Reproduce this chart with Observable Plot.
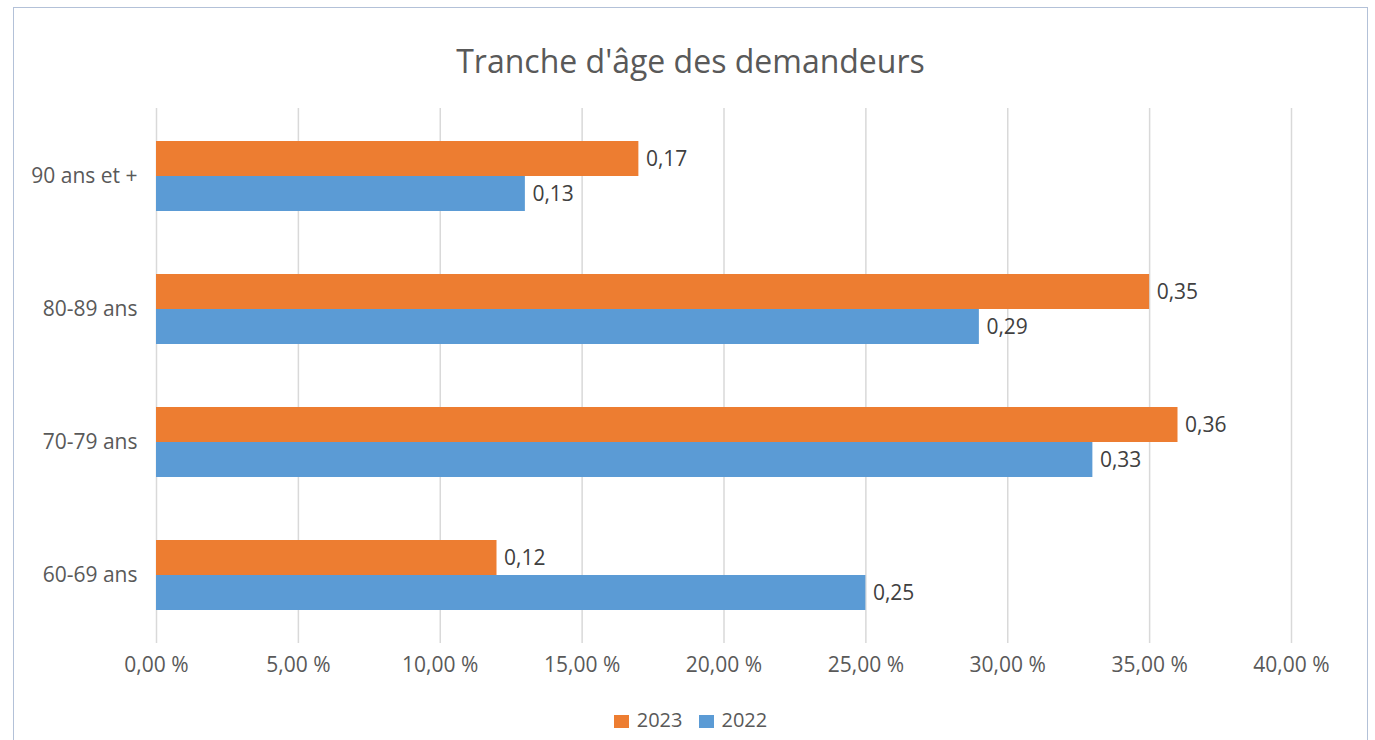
<!DOCTYPE html>
<html>
<head>
<meta charset="utf-8">
<script src="https://cdn.jsdelivr.net/npm/d3@7"></script>
<script src="https://cdn.jsdelivr.net/npm/@observablehq/plot@0.6"></script>
<style>
  html, body { margin: 0; padding: 0; background: #fff; }
  body { width: 1375px; height: 740px; position: relative; overflow: hidden; font-family: "Open Sans", sans-serif; }
  #frame { position: absolute; left: 13px; top: 7px; width: 1355px; height: 760px; border: 1.5px solid #b3c1d8; box-sizing: border-box; }
  #title { position: absolute; left: 0; width: 1381px; top: 37px; text-align: center; font-size: 32px; color: #595959; line-height: 48px; }
  #chart { position: absolute; left: 0; top: 90px; }
  #legend { position: absolute; left: 0; width: 1381px; top: 706px; text-align: center; font-size: 20px; color: #595959; line-height: 28px; }
  .sw { display: inline-block; width: 15px; height: 13px; margin-right: 8px; vertical-align: -1px; }
  .item { display: inline-block; margin: 0 8px; }
</style>
</head>
<body>
<div id="frame"></div>
<div id="title">Tranche d'âge des demandeurs</div>
<div id="chart"></div>
<div id="legend"></div>
<script>
const categories = ["90 ans et +", "80-89 ans", "70-79 ans", "60-69 ans"];
const series = ["2023", "2022"];
const values2023 = [0.17, 0.35, 0.36, 0.12];
const values2022 = [0.13, 0.29, 0.33, 0.25];
const xTicks = [0, 0.05, 0.10, 0.15, 0.20, 0.25, 0.30, 0.35, 0.40];
const colors = {"2023": "#ED7D31", "2022": "#5B9BD5"};

const data = [];
categories.forEach((c, i) => {
  data.push({cat: c, year: "2023", v: values2023[i]});
  data.push({cat: c, year: "2022", v: values2022[i]});
});
const d23 = data.filter(d => d.year === "2023");
const d22 = data.filter(d => d.year === "2022");

const fmtTick = d => (d * 100).toFixed(2).replace(".", ",") + " %";
const fmtVal = d => d.toFixed(2).replace(".", ",");

const W = 1375, H = 600;
const marginTop = 18, marginBottom = H - 553;
const plotH = H - marginTop - marginBottom;
const pin = 1 - 70 / (plotH / 4);
const half = 35;

const chart = Plot.plot({
  width: W,
  height: H,
  marginLeft: 156,
  marginRight: 84,
  marginTop,
  marginBottom,
  style: {fontFamily: "'Open Sans', sans-serif", fontSize: "21px", color: "#595959", background: "transparent"},
  x: {domain: [0, 0.40], ticks: xTicks, tickFormat: fmtTick, grid: false, label: null},
  y: {domain: categories, paddingInner: pin, paddingOuter: pin / 2, label: null},
  marks: [
    Plot.ruleX(xTicks, {stroke: "#d9d9d9", strokeWidth: 1.5}),
    Plot.barX(d23, {y: "cat", x: "v", fill: colors["2023"], insetBottom: half}),
    Plot.barX(d22, {y: "cat", x: "v", fill: colors["2022"], insetTop: half}),
    Plot.text(d23, {y: "cat", x: "v", text: d => fmtVal(d.v), dy: -half / 2, dx: 7, textAnchor: "start", fill: "#404040", fontSize: 21}),
    Plot.text(d22, {y: "cat", x: "v", text: d => fmtVal(d.v), dy: half / 2, dx: 7, textAnchor: "start", fill: "#404040", fontSize: 21}),
    Plot.axisX(xTicks, {tickSize: 0, tickPadding: 14, tickFormat: fmtTick, fill: "#595959", fontSize: 21, label: null}),
    Plot.axisY(categories, {tickSize: 0, tickPadding: 19, fill: "#595959", fontSize: 21, label: null})
  ]
});
document.getElementById("chart").appendChild(chart);

const legend = document.getElementById("legend");
series.forEach(s => {
  const span = document.createElement("span");
  span.className = "item";
  const sw = document.createElement("span");
  sw.className = "sw";
  sw.style.background = colors[s];
  span.appendChild(sw);
  span.appendChild(document.createTextNode(s));
  legend.appendChild(span);
});
</script>
</body>
</html>
